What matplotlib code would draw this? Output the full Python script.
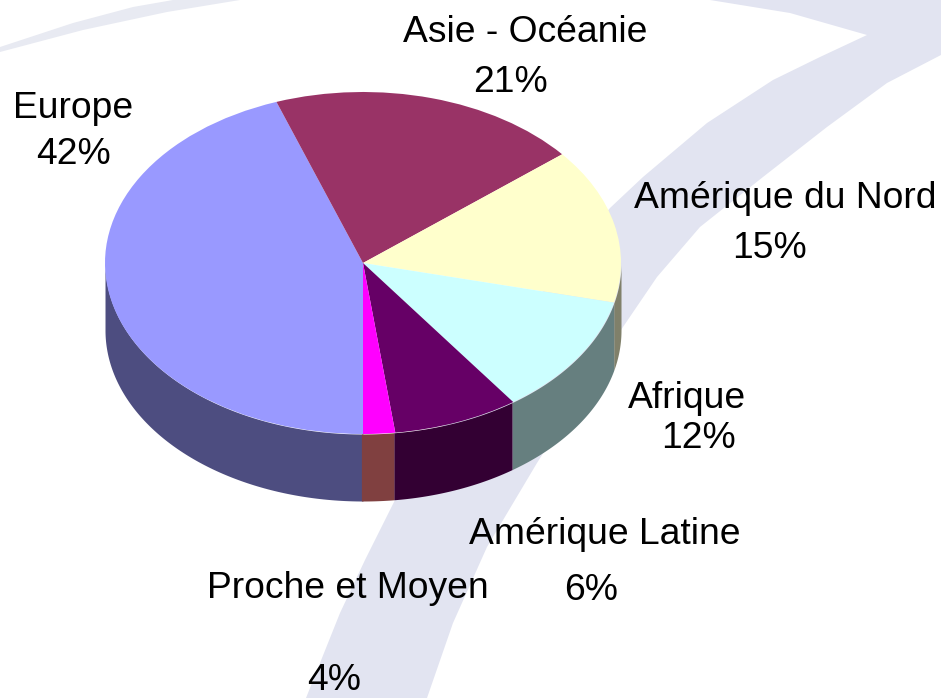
import numpy as np
import matplotlib
matplotlib.use("Agg")
import matplotlib.pyplot as plt
from matplotlib.patches import Polygon

plt.rcParams['font.family'] = ['Liberation Sans', 'DejaVu Sans']

regions = ['Europe', 'Asie - Océanie', 'Amérique du Nord', 'Afrique', 'Amérique Latine', 'Proche et Moyen']
percents = [42, 21, 15, 12, 6, 4]
# share of the ellipse each slice really takes up in the picture (perspective skews it)
drawn_shares = [44.6, 19.5, 14.7, 11.4, 7.9, 2.0]
top_colors = ['#9999FF', '#993366', '#FFFFCC', '#CCFFFF', '#660066', '#FF00FF']
side_colors = ['#4D4D80', '#4D1A33', '#80806A', '#667F7F', '#330033', '#804040']

# pie position in pixels
cx, cy, rx, ry, depth = 363, 263, 258, 171, 67
W, H = 941, 698
fs = 26.8

fig = plt.figure(figsize=(9.41, 6.98), dpi=100, facecolor='white')

# background swoosh, pixel coords
bg = fig.add_axes([0, 0, 1, 1], zorder=0)
bg.set_xlim(0, W)
bg.set_ylim(H, 0)
bg.axis('off')
swoosh = [(710, 0), (790, 13), (867, 35), (820, 57), (773, 80), (707, 123), (643, 177), (610, 208), (520, 320),
          (440, 430), (395, 500), (365, 560), (340, 613), (306, 698),
          (427, 698), (453, 623), (487, 547), (537, 463), (623, 327), (657, 277), (700, 227), (763, 177),
          (827, 127), (887, 83), (941, 55), (941, 0)]
bg.add_patch(Polygon(swoosh, closed=True, fc='#E2E4F1', ec='none'))
band = [(0, 47), (73, 23), (133, 7), (173, 0), (240, 0), (167, 12), (83, 30), (0, 52)]
bg.add_patch(Polygon(band, closed=True, fc='#E8EAF2', ec='none'))

# labels
bg.text(525, 32, regions[1], fontsize=fs, ha='center', va='center')
bg.text(511, 83, '%d%%' % percents[1], fontsize=fs, ha='center', va='center')
bg.text(73, 109, regions[0], fontsize=fs, ha='center', va='center')
bg.text(74, 154, '%d%%' % percents[0], fontsize=fs, ha='center', va='center')
bg.text(785, 199, regions[2], fontsize=fs, ha='center', va='center')
bg.text(770, 248, '%d%%' % percents[2], fontsize=fs, ha='center', va='center')
bg.text(687, 399, regions[3], fontsize=fs, ha='center', va='center')
bg.text(699, 439, '%d%%' % percents[3], fontsize=fs, ha='center', va='center')
bg.text(605, 535, regions[4], fontsize=fs, ha='center', va='center')
bg.text(591, 590, '%d%%' % percents[4], fontsize=fs, ha='center', va='center')
bg.text(348, 588, regions[5], fontsize=fs, ha='center', va='center')
bg.text(334, 681, '%d%%' % percents[5], fontsize=fs, ha='center', va='center')

# pie axes: unit circle stretched to the ellipse
ax = fig.add_axes([0, 0, 1, 1], zorder=1)
ax.patch.set_alpha(0)

edges = 270 - np.cumsum([0] + drawn_shares) * 3.6
h = depth / ry
for i in range(len(regions)):
    t = np.radians(np.linspace(edges[i + 1], edges[i], 200))
    t = t[np.sin(t) <= 0]
    if len(t) == 0:
        continue
    ax.fill_between(np.cos(t), np.sin(t), np.sin(t) - h, color=side_colors[i], lw=0)

ax.pie(drawn_shares, colors=top_colors, startangle=270, counterclock=False, radius=1,
       wedgeprops={'linewidth': 0})
ax.set_aspect('auto')
ax.set_xlim(-cx / rx, (W - cx) / rx)
ax.set_ylim((cy - H) / ry, cy / ry)
ax.axis('off')

fig.savefig('out.png', dpi=100)
